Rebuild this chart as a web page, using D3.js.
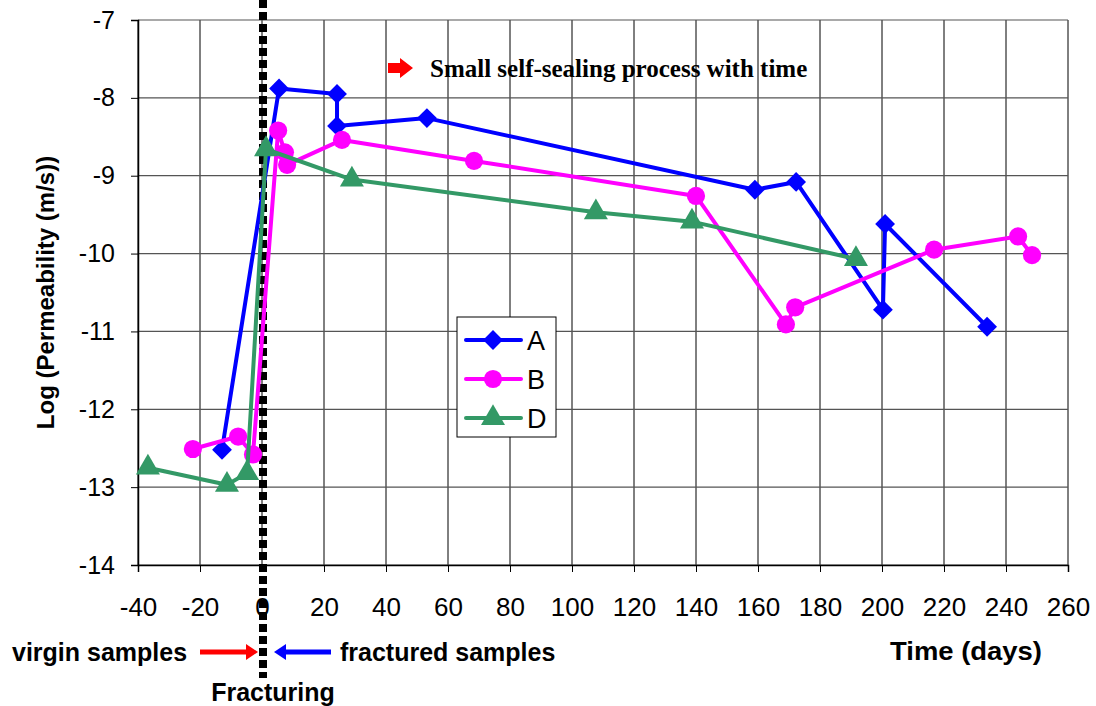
<!DOCTYPE html>
<html>
<head>
<meta charset="utf-8">
<script src="https://cdn.jsdelivr.net/npm/d3@7"></script>
<style>
body { margin: 0; background: #fff; }
text { font-family: "Liberation Sans", Arial, sans-serif; }
</style>
</head>
<body>
<svg id="chart" width="1096" height="706"></svg>
<script>
// sample A (blue diamonds)
var daysA = [-12.9, 5.5, 24.2, 24.2, 53.2, 159, 172.3, 200.3, 201, 233.9];
var permA = [-12.52, -7.88, -7.95, -8.36, -8.26, -9.18, -9.08, -10.72, -9.62, -10.94];
// sample B (magenta circles)
var daysB = [-22.3, -7.7, -2.9, 5.2, 7.4, 8.1, 25.8, 68.4, 140, 169, 172, 216.8, 243.9, 248.4];
var permB = [-12.51, -12.35, -12.58, -8.42, -8.7, -8.86, -8.54, -8.81, -9.26, -10.91, -10.69, -9.95, -9.78, -10.02];
// sample D (green triangles)
var daysD = [-36.8, -11.3, -4.8, 1.3, 29, 107.7, 138.7, 191.6];
var permD = [-12.75, -12.97, -12.82, -8.66, -9.05, -9.47, -9.59, -10.07];

var xTicks = d3.range(-40, 261, 20);
var yTicks = d3.range(-14, -6, 1);

var series = [
  {name: "A", x: daysA, y: permA, color: "#0000ff", sym: d3.symbolDiamond2, size: 250},
  {name: "B", x: daysB, y: permB, color: "#ff00ff", sym: d3.symbolCircle, size: 260},
  {name: "D", x: daysD, y: permD, color: "#339966", sym: d3.symbolTriangle, size: 250}
];

var svg = d3.select("#chart");
var mLeft = 138, mRight = 1068, mTop = 20, mBottom = 565;

var x = d3.scaleLinear().domain([-40, 260]).range([mLeft, mRight]);
var y = d3.scaleLinear().domain([-14, -7]).range([mBottom, mTop]);

// grid
svg.append("g").selectAll("line")
    .data(xTicks)
  .enter().append("line")
    .attr("x1", function(d){ return x(d); })
    .attr("x2", function(d){ return x(d); })
    .attr("y1", mTop).attr("y2", mBottom)
    .attr("stroke", "#000").attr("stroke-width", 1);

svg.append("g").selectAll("line")
    .data(yTicks)
  .enter().append("line")
    .attr("x1", mLeft).attr("x2", mRight)
    .attr("y1", function(d){ return y(d); })
    .attr("y2", function(d){ return y(d); })
    .attr("stroke", "#555").attr("stroke-width", 1.2);

// axes (plain hyphen for negatives)
var fmt = function(d){ return d.toString(); };
var xAxis = svg.append("g")
    .attr("transform", "translate(0," + mBottom + ")")
    .call(d3.axisBottom(x).tickValues(xTicks).tickSize(7).tickPadding(26).tickFormat(fmt));
var yAxis = svg.append("g")
    .attr("transform", "translate(" + mLeft + ",0)")
    .call(d3.axisLeft(y).tickValues(yTicks).tickSize(7).tickPadding(16).tickFormat(fmt));
[xAxis, yAxis].forEach(function(a){
  a.selectAll("text").style("font-size", "26px").attr("fill", "#000")
    .style("font-family", "'Liberation Sans', Arial, sans-serif");
  a.selectAll("line").attr("stroke", "#000");
  a.select(".domain").attr("stroke", "#000").attr("stroke-width", 1.5);
});
yAxis.selectAll("text").style("font-size", "25px");

// fracturing line
svg.append("line")
    .attr("x1", x(0) + 1).attr("x2", x(0) + 1)
    .attr("y1", 0).attr("y2", 678)
    .attr("stroke", "#000").attr("stroke-width", 8)
    .attr("stroke-dasharray", "8,4");

// series
var line = d3.line()
    .x(function(d){ return x(d[0]); })
    .y(function(d){ return y(d[1]); });

series.forEach(function(s){
  var pts = s.x.map(function(v, i){ return [v, s.y[i]]; });
  var g = svg.append("g");
  g.append("path")
    .datum(pts)
    .attr("d", line)
    .attr("fill", "none")
    .attr("stroke", s.color)
    .attr("stroke-width", 4)
    .attr("stroke-linejoin", "round");
  g.selectAll("path.m")
    .data(pts)
  .enter().append("path")
    .attr("class", "m")
    .attr("d", d3.symbol().type(s.sym).size(s.size))
    .attr("transform", function(d){ return "translate(" + x(d[0]) + "," + y(d[1]) + ")"; })
    .attr("fill", s.color);
});

// legend
var leg = svg.append("g").attr("transform", "translate(457,317)");
leg.append("rect")
    .attr("width", 99).attr("height", 120)
    .attr("fill", "#fff").attr("stroke", "#000").attr("stroke-width", 1);
series.forEach(function(s, i){
  var ly = 23 + i * 39;
  leg.append("line")
    .attr("x1", 9).attr("x2", 64).attr("y1", ly).attr("y2", ly)
    .attr("stroke", s.color).attr("stroke-width", 4).attr("stroke-linecap", "round");
  leg.append("path")
    .attr("d", d3.symbol().type(s.sym).size(s.size))
    .attr("transform", "translate(36," + ly + ")")
    .attr("fill", s.color);
  leg.append("text")
    .attr("x", 70).attr("y", ly + 10)
    .style("font-size", "27px")
    .text(s.name);
});

// axis titles
svg.append("text")
    .attr("transform", "translate(54," + ((mTop + mBottom) / 2) + ") rotate(-90)")
    .attr("text-anchor", "middle")
    .style("font-size", "24px").style("font-weight", "bold")
    .text("Log (Permeability (m/s))");

svg.append("text")
    .attr("x", 1042).attr("y", 660)
    .attr("text-anchor", "end")
    .attr("textLength", 152).attr("lengthAdjust", "spacingAndGlyphs")
    .style("font-size", "25px").style("font-weight", "bold")
    .text("Time (days)");

// annotations
function arrow(x1, x2, yy, color){
  var dir = x2 > x1 ? 1 : -1;
  svg.append("line")
    .attr("x1", x1).attr("x2", x2 - dir * 10).attr("y1", yy).attr("y2", yy)
    .attr("stroke", color).attr("stroke-width", 5);
  svg.append("path")
    .attr("d", "M" + x2 + "," + yy + " L" + (x2 - dir * 12) + "," + (yy - 8) +
      " L" + (x2 - dir * 12) + "," + (yy + 8) + "Z")
    .attr("fill", color);
}

svg.append("text")
    .attr("x", 12).attr("y", 661)
    .style("font-size", "25px").style("font-weight", "bold")
    .text("virgin samples");
arrow(200, 258, 652, "#ff0000");
arrow(331, 274, 652, "#0000ff");
svg.append("text")
    .attr("x", 340).attr("y", 661)
    .style("font-size", "25px").style("font-weight", "bold")
    .text("fractured samples");
svg.append("text")
    .attr("x", 273).attr("y", 701)
    .attr("text-anchor", "middle")
    .style("font-size", "25px").style("font-weight", "bold")
    .text("Fracturing");

// self-sealing note
svg.append("path")
    .attr("d", "M388,63 L400,63 L400,58 L413,68 L400,78 L400,73 L388,73Z")
    .attr("fill", "#ff0000");
svg.append("text")
    .attr("x", 430).attr("y", 77)
    .style("font-family", "'Liberation Serif', 'Times New Roman', serif")
    .style("font-size", "25px").style("font-weight", "bold")
    .text("Small self-sealing process with time");
</script>
</body>
</html>
